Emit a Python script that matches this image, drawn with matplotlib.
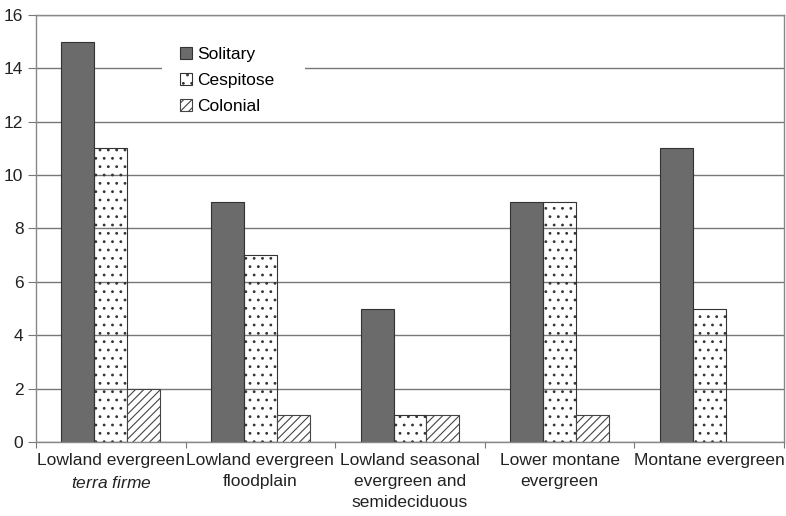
import matplotlib
matplotlib.use("Agg")
import matplotlib.pyplot as plt
from matplotlib.patches import Rectangle
import numpy as np

plt.rcParams['font.family'] = ['Liberation Sans', 'DejaVu Sans']
plt.rcParams['mathtext.fontset'] = 'custom'
plt.rcParams['mathtext.it'] = 'Liberation Sans:italic'
plt.rcParams['mathtext.rm'] = 'Liberation Sans'
plt.rcParams['hatch.linewidth'] = 0.8

categories = ["Lowland evergreen\n$\\mathit{terra\\ firme}$",
              "Lowland evergreen\nfloodplain",
              "Lowland seasonal\nevergreen and\nsemideciduous",
              "Lower montane\nevergreen",
              "Montane evergreen"]
series_names = ["Solitary", "Cespitose", "Colonial"]
solitary = [15, 9, 5, 9, 11]
cespitose = [11, 7, 1, 9, 5]
colonial = [2, 1, 1, 1, 0]
yticks = [0, 2, 4, 6, 8, 10, 12, 14, 16]

fig = plt.figure(figsize=(7.86, 5.16), dpi=100)
ax = fig.add_axes([0.0458, 0.1434, 0.9517, 0.8276])

x = np.arange(len(categories))
w = 0.22
gray = '#6b6b6b'
edge = '#333333'
ax.bar(x - w, solitary, w, color=gray, edgecolor=edge, linewidth=0.8, label=series_names[0], zorder=2)
ax.bar(x, cespitose, w, facecolor='none', edgecolor=edge, hatch='..', linewidth=0.8, label=series_names[1], zorder=2)
ax.bar(x + w, colonial, w, facecolor='white', edgecolor='#444444', hatch='////', linewidth=0.8, label=series_names[2], zorder=2)

ax.set_xlim(-0.5, len(categories) - 0.5)
ax.set_ylim(0, 16)
ax.set_yticks(yticks)
ax.yaxis.grid(True, color='#777777', linewidth=1.0, zorder=0)
ax.set_axisbelow(True)
ax.tick_params(axis='y', direction='out', length=6, color='#777777', labelsize=12.5, pad=3, labelcolor='#222222')

ax.set_xticks(np.arange(len(categories) + 1) - 0.5)
ax.set_xticklabels([])
ax.tick_params(axis='x', which='major', direction='out', length=4, color='#777777')
ax.set_xticks(x, minor=True)
ax.set_xticklabels(categories, minor=True, fontsize=12.5, color='#222222', linespacing=1.5)
ax.tick_params(axis='x', which='minor', length=0, pad=8)

for s in ax.spines.values():
    s.set_color('#888888')
    s.set_linewidth(1.0)

# white background behind legend that interrupts the gridline
ax.add_patch(Rectangle((0.168, 0.763), 0.192, 0.178, transform=ax.transAxes,
                       facecolor='white', edgecolor='none', zorder=1.5))

leg = ax.legend(loc='upper left', bbox_to_anchor=(0.1925, 0.925), frameon=False, fontsize=12.5,
                handlelength=0.7, handleheight=0.7, handletextpad=0.3, labelspacing=0.62,
                borderpad=0, borderaxespad=0)
leg.set_zorder(3)

fig.savefig('out.png', dpi=100)
